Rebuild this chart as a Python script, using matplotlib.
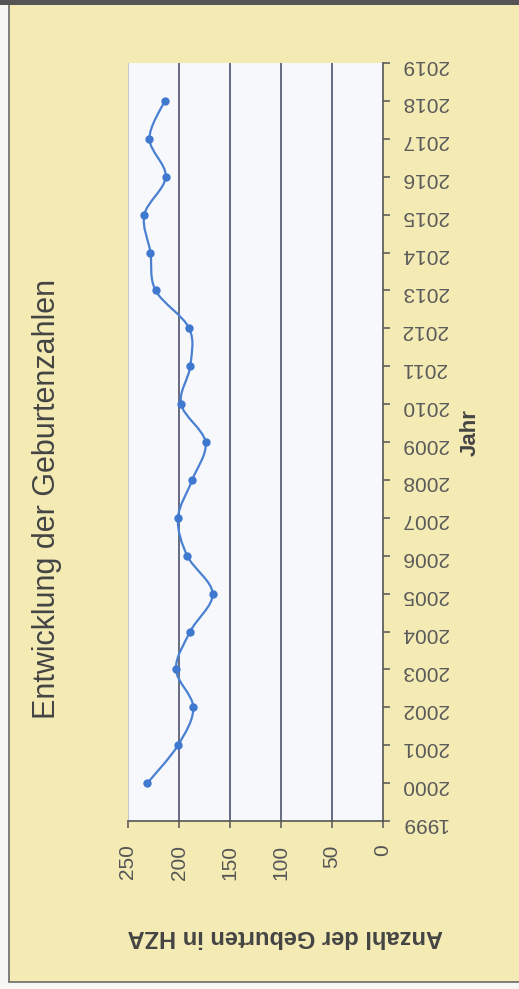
import matplotlib
matplotlib.use('Agg')
import matplotlib.pyplot as plt
from matplotlib.path import Path
from matplotlib.patches import PathPatch, Rectangle
import numpy as np

# Geburten pro Jahr
years = list(range(2000, 2019))
births = [231, 201, 186, 203, 189, 167, 192, 201, 187, 174,
          198, 189, 190, 223, 228, 234, 213, 229, 214]
year_ticks = list(range(1999, 2020))
value_ticks = [0, 50, 100, 150, 200, 250]

plt.rcParams['font.family'] = ['Liberation Sans', 'DejaVu Sans']

W, H = 519, 989
fig = plt.figure(figsize=(W / 100, H / 100), dpi=100)
fig.patch.set_facecolor('#f7f7f4')

# yellow card with grey frame
card = Rectangle((9 / W, 1 - 982 / H), 1.0, (982 - 4) / H,
                 transform=fig.transFigure, facecolor='#f3eab4',
                 edgecolor='#6a6a6a', lw=1.2, zorder=-2)
band = Rectangle((0, 1 - 5 / H), 1, 5 / H, transform=fig.transFigure,
                 facecolor='#555555', edgecolor='none', zorder=-1)
fig.add_artist(card)
fig.add_artist(band)

ax = fig.add_axes([128 / W, 1 - 821 / H, (383 - 128) / W, (821 - 63) / H])
ax.set_zorder(2)
ax.set_facecolor('#f6f8fc')

# smoothed line (Excel-style bezier through the points)
pts = np.column_stack([births, years]).astype(float)
n = len(pts)
verts = [pts[0]]
codes = [Path.MOVETO]
for i in range(n - 1):
    p0 = pts[max(i - 1, 0)]
    p1 = pts[i]
    p2 = pts[i + 1]
    p3 = pts[min(i + 2, n - 1)]
    verts += [p1 + (p2 - p0) / 6, p2 - (p3 - p1) / 6, p2]
    codes += [Path.CURVE4] * 3
ax.add_patch(PathPatch(Path(verts, codes), fill=False, edgecolor='#4a80d2',
                       lw=1.6, zorder=3))
ax.plot(births, years, 'o', color='#3f78cf', ms=5, zorder=4)

ax.set_xlim(250, 0)
ax.set_ylim(1999, 2019)
ax.set_xticks(value_ticks)
ax.set_yticks(year_ticks)
ax.yaxis.tick_right()

for v in [50, 100, 150, 200]:
    ax.axvline(v, color='#3e4660', lw=1.1, zorder=2)

ax.spines['top'].set_visible(False)
ax.spines['left'].set_color('#c8c8c8')
ax.spines['left'].set_linewidth(0.8)
ax.spines['bottom'].set_color('#555555')
ax.spines['right'].set_color('#555555')
ax.spines['bottom'].set_linewidth(1.2)
ax.spines['right'].set_linewidth(1.2)

ax.tick_params(axis='x', direction='out', length=5, width=1.1, color='#555555',
               labelsize=15, labelcolor='#555555', pad=12)
ax.tick_params(axis='y', direction='out', length=5, width=1.1, color='#555555',
               labelsize=15, labelcolor='#5a5a5a', pad=8)
for lab in ax.get_xticklabels():
    lab.set_rotation(90)
for lab in ax.get_yticklabels():
    lab.set_rotation(180)

fig.text(47 / W, 1 - 499 / H, 'Entwicklung der Geburtenzahlen', rotation=90,
         ha='center', va='center', fontsize=22, color='#444444')
fig.text(470 / W, 1 - 433 / H, 'Jahr', rotation=90, ha='center', va='center',
         fontsize=16, fontweight='bold', color='#444444')
fig.text(285 / W, 1 - 936 / H, 'Anzahl der Geburten in HZA', rotation=180,
         ha='center', va='center', fontsize=17, fontweight='bold', color='#444444')

fig.savefig('out.png', dpi=100, facecolor=fig.get_facecolor())
